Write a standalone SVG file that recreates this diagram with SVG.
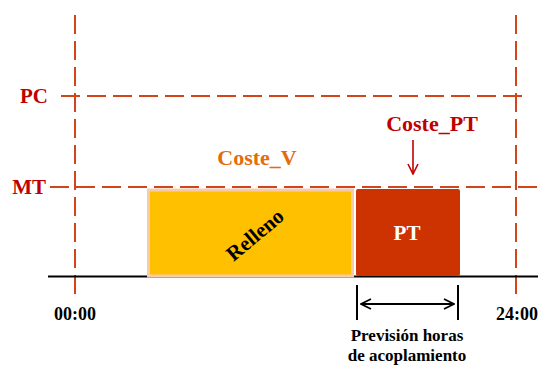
<svg xmlns="http://www.w3.org/2000/svg" width="538" height="365" viewBox="0 0 538 365">
  <defs>
    <style>
      .grid { stroke: #D2441A; stroke-width: 2; stroke-dasharray: 19 7; fill: none; }
      .axis { stroke: #000; stroke-width: 2; fill: none; }
      .lbl { font-family: "Liberation Serif", "Times New Roman", serif; font-weight: bold; }
      .lvl { fill: #C00000; font-size: 21px; }
      .time { fill: #000; font-size: 18px; }
      .note { fill: #000; font-size: 17px; text-anchor: middle; }
    </style>
    <marker id="blackHead" viewBox="0 0 12 12" refX="11" refY="6" markerWidth="12" markerHeight="12" markerUnits="userSpaceOnUse" orient="auto-start-reverse">
      <path d="M1,1 L11,6 L1,11" fill="none" stroke="#000" stroke-width="1.8"/>
    </marker>
    <marker id="redHead" viewBox="0 0 12 12" refX="11" refY="6" markerWidth="12" markerHeight="12" markerUnits="userSpaceOnUse" orient="auto">
      <path d="M1,1 L11,6 L1,11" fill="none" stroke="#C00000" stroke-width="1.6"/>
    </marker>
  </defs>

  <rect width="538" height="365" fill="#fff"/>

  <!-- connectors: reference levels, time markers, axis and arrows -->
  <g id="connectors">
    <line class="grid" x1="75" y1="15" x2="75" y2="297"/>
    <line class="grid" x1="516" y1="15" x2="516" y2="297"/>
    <line class="grid" x1="61" y1="96" x2="528" y2="96"/>
    <line class="grid" x1="50" y1="187" x2="538" y2="187"/>
    <line class="axis" x1="48" y1="276.5" x2="538" y2="276.5"/>
    <line x1="413" y1="140" x2="413" y2="174" stroke="#C00000" stroke-width="1.6" marker-end="url(#redHead)"/>
    <line class="axis" x1="357" y1="285" x2="357" y2="320"/>
    <line class="axis" x1="458" y1="285" x2="458" y2="320"/>
    <line x1="361" y1="304" x2="454" y2="304" stroke="#000" stroke-width="1.8" marker-start="url(#blackHead)" marker-end="url(#blackHead)"/>
  </g>

  <g id="level-labels">
    <text class="lbl lvl" x="48" y="103" text-anchor="end">PC</text>
    <text class="lbl lvl" x="46" y="194" text-anchor="end">MT</text>
  </g>

  <g id="relleno">
    <rect x="148.5" y="190" width="204" height="86" fill="#FFC000" stroke="#F8CBAD" stroke-width="3"/>
    <text class="lbl" x="255" y="242" font-size="21" text-anchor="middle" transform="rotate(-40 255 235)">Relleno</text>
  </g>

  <g id="pt">
    <rect x="356" y="189" width="104" height="87" rx="2" fill="#CC3300"/>
    <text class="lbl" x="407" y="240" font-size="21" fill="#fff" text-anchor="middle">PT</text>
  </g>

  <g id="coste-v">
    <text class="lbl" x="257" y="165" font-size="22" fill="#E46C0A" text-anchor="middle">Coste_V</text>
  </g>

  <g id="coste-pt">
    <text class="lbl" x="432" y="131" font-size="22" fill="#C00000" text-anchor="middle">Coste_PT</text>
  </g>

  <g id="times">
    <text class="lbl time" x="75" y="320" text-anchor="middle">00:00</text>
    <text class="lbl time" x="517" y="320" text-anchor="middle">24:00</text>
  </g>

  <g id="prevision">
    <text class="lbl note" x="407" y="341">Previsión horas</text>
    <text class="lbl note" x="407" y="360.5">de acoplamiento</text>
  </g>
</svg>
